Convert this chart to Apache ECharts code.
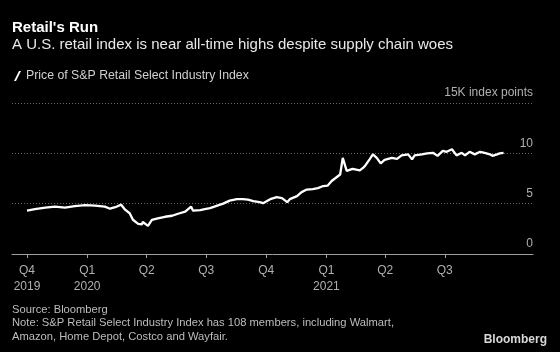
<!DOCTYPE html>
<html>
<head>
<meta charset="utf-8">
<script src="https://cdn.jsdelivr.net/npm/echarts@6/dist/echarts.min.js"></script>
<title>Retail's Run</title>
<style>
  html, body { margin: 0; padding: 0; background: #000; }
  #main { width: 560px; height: 352px; }
</style>
</head>
<body>
<div id="main"></div>
<script>
// S&P Retail Select Industry Index, thousands of index points
var dates = [
  '2019-10-01', '2019-10-13', '2019-10-29', '2019-11-13', '2019-11-28', '2019-12-13', '2019-12-29',
  '2020-01-13', '2020-01-28', '2020-02-05', '2020-02-13', '2020-02-22', '2020-02-28', '2020-03-06',
  '2020-03-11', '2020-03-19', '2020-03-25', '2020-03-26', '2020-04-03', '2020-04-09', '2020-04-18',
  '2020-04-29', '2020-05-10', '2020-05-19', '2020-05-30', '2020-06-08', '2020-06-11', '2020-06-14',
  '2020-06-22', '2020-06-29', '2020-07-07', '2020-07-18', '2020-07-27', '2020-08-06', '2020-08-17',
  '2020-08-26', '2020-09-03', '2020-09-11', '2020-09-21', '2020-09-26', '2020-10-07', '2020-10-17',
  '2020-10-25', '2020-11-02', '2020-11-06', '2020-11-17', '2020-11-24', '2020-12-02', '2020-12-11',
  '2020-12-19', '2020-12-27', '2021-01-03', '2021-01-09', '2021-01-17', '2021-01-22', '2021-01-26',
  '2021-01-29', '2021-02-01', '2021-02-10', '2021-02-21', '2021-02-26', '2021-03-01', '2021-03-04',
  '2021-03-08', '2021-03-13', '2021-03-19', '2021-03-25', '2021-03-31', '2021-04-11', '2021-04-19',
  '2021-04-26', '2021-05-06', '2021-05-12', '2021-05-16', '2021-05-27', '2021-06-04', '2021-06-13',
  '2021-06-20', '2021-06-28', '2021-07-04', '2021-07-12', '2021-07-19', '2021-07-27', '2021-08-01',
  '2021-08-08', '2021-08-16', '2021-08-24', '2021-08-31', '2021-09-08', '2021-09-12', '2021-09-19',
  '2021-09-23', '2021-09-29'
];
var prices = [
  4.3, 4.45, 4.6, 4.7, 4.6, 4.75, 4.85,
  4.8, 4.7, 4.5, 4.65, 4.9, 4.4, 4.05,
  3.4, 3.0, 2.95, 3.2, 2.8, 3.4, 3.55,
  3.7, 3.8, 4.0, 4.2, 4.7, 4.3, 4.4,
  4.35, 4.45, 4.55, 4.8, 5.0, 5.3, 5.45,
  5.45, 5.4, 5.25, 5.15, 5.05, 5.45, 5.65,
  5.55, 5.15, 5.45, 5.75, 6.15, 6.4, 6.45,
  6.55, 6.75, 6.8, 7.25, 7.65, 7.9, 9.55,
  8.9, 8.25, 8.45, 8.3, 8.55, 8.75, 8.8,
  9.4, 9.9, 9.55, 9.0, 9.35, 9.55, 9.45,
  9.8, 9.9, 9.4, 9.8, 9.9, 10.0, 10.05,
  9.75, 10.25, 10.15, 10.4, 9.8, 10.05, 9.8,
  10.15, 9.9, 10.15, 10.05, 9.9, 9.75, 9.9,
  10.0, 10.05
];
var quarterTicks = ['2019-10-01', '2020-01-01', '2020-04-01', '2020-07-01', '2020-10-01',
                    '2021-01-01', '2021-04-01', '2021-07-01'];
var quarterLabels = ['Q4\n2019', 'Q1\n2020', 'Q2', 'Q3', 'Q4', 'Q1\n2021', 'Q2', 'Q3'];
var yTicks = [0, 5, 10, 15];

// dates -> days since 2019-01-01 (UTC), used on a plain value axis
function day(s) {
  var p = s.split('-');
  return Math.round((Date.UTC(+p[0], +p[1] - 1, +p[2]) - Date.UTC(2019, 0, 1)) / 86400000);
}
var tickDays = quarterTicks.map(day);

var myChart = echarts.init(document.getElementById('main'));

var font = '"Liberation Sans", Arial, sans-serif';

var option = {
  backgroundColor: '#000',
  animation: false,
  textStyle: { fontFamily: font },
  grid: { left: 12, right: 27, top: 103, bottom: 98 },
  legend: {
    left: 9, top: 65,
    itemWidth: 7, itemHeight: 10, itemGap: 7,
    icon: 'path://M0,10 L2,10 L7,0 L5,0 Z',
    textStyle: { color: '#d0d0d0', fontSize: 12.3, fontFamily: font },
    data: ['Price of S&P Retail Select Industry Index']
  },
  graphic: [
    { type: 'text', left: 12, top: 20, style: { text: "Retail's Run", fill: '#fff', font: 'bold 15px ' + font } },
    { type: 'text', left: 12, top: 37, style: { text: 'A U.S. retail index is near all-time highs despite supply chain woes', fill: '#e8e8e8', font: '15px ' + font } },
    { type: 'text', left: 12, top: 303, style: { text: 'Source: Bloomberg\nNote: S&P Retail Select Industry Index has 108 members, including Walmart,\nAmazon, Home Depot, Costco and Wayfair.', fill: '#bdbdbd', font: '11.2px ' + font, lineHeight: 13.5 } },
    { type: 'text', right: 13, top: 334, style: { text: 'Bloomberg', fill: '#d8d8d8', font: 'bold 12px ' + font } }
  ],
  xAxis: {
    type: 'value',
    min: day('2019-09-08'),
    max: day('2021-11-13'),
    axisLine: { onZero: false, lineStyle: { color: '#a0a0a0', width: 1 } },
    axisTick: { show: true, customValues: tickDays, length: 4, lineStyle: { color: '#a0a0a0' } },
    axisLabel: {
      customValues: tickDays,
      color: '#b0b0b0', fontSize: 12, lineHeight: 16, margin: 9,
      formatter: function (v) {
        var i = tickDays.indexOf(Math.round(v));
        return i < 0 ? '' : quarterLabels[i];
      }
    },
    splitLine: { show: false }
  },
  yAxis: {
    type: 'value',
    position: 'right',
    min: yTicks[0], max: yTicks[yTicks.length - 1], interval: 5,
    axisLine: { show: false },
    axisTick: { show: false },
    axisLabel: {
      inside: true, margin: 0, verticalAlign: 'bottom',
      color: '#b0b0b0', fontSize: 12, padding: [0, 0, 4, 0],
      formatter: function (v) { return v === 15 ? '15K index points' : String(v); }
    },
    splitLine: { lineStyle: { color: '#6a6a6a', type: [1, 2], width: 1 } }
  },
  series: [{
    name: 'Price of S&P Retail Select Industry Index',
    type: 'line',
    showSymbol: false,
    color: '#fff',
    lineStyle: { color: '#fff', width: 2.3 },
    data: dates.map(function (d, i) { return [day(d), prices[i]]; })
  }]
};
myChart.setOption(option);
</script>
</body>
</html>
